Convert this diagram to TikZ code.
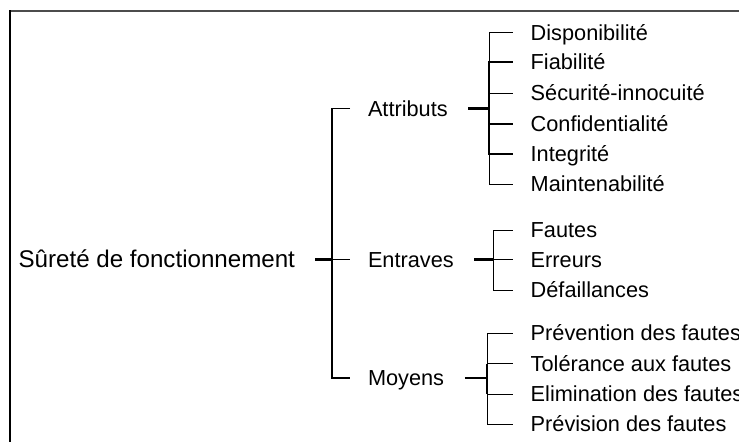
\documentclass[tikz,border=0pt]{standalone}
\usepackage{fontspec}
\setmainfont{Liberation Sans}

\begin{document}
\begin{tikzpicture}[x=0.75pt,y=-0.75pt,line width=1pt,
    main node/.style={inner sep=0pt,outer xsep=15pt,text height=12.7pt,text depth=0pt,font=\fontsize{18.1}{21}\selectfont},
    sub node/.style={inner sep=0pt,outer xsep=13.5pt,text height=11.4pt,text depth=0pt,font=\fontsize{16.3}{19}\selectfont},
    stub/.style={line width=1.6pt}]
            \clip (0,0) rectangle (739,442);
            % frame
            \draw[black!70,line width=1.5pt] (10,11) -- (739,11);
            \draw[line width=1.5pt] (10,10.25) -- (10,442);

            \node[main node] (1) [anchor=east] at (315,259.5) {Sûreté de fonctionnement};

            \node[sub node] (2) [anchor=west] at (350,108.5) {Attributs};
            \node[sub node] (3) [anchor=west] at (350,259.5) {Entraves};
            \node[sub node] (4) [anchor=west] at (350,378) {Moyens};

            \node[sub node] (5) [anchor=west] at (512.7,32.7) {Disponibilité};
            \node[sub node] (6) [anchor=west] at (512.7,62) {Fiabilité};
            \node[sub node] (7) [anchor=west] at (512.7,93.3) {Sécurité-innocuité};
            \node[sub node] (8) [anchor=west] at (512.7,124) {Confidentialité};
            \node[sub node] (9) [anchor=west] at (512.7,154.3) {Integrité};
            \node[sub node] (10) [anchor=west] at (512.7,184.3) {Maintenabilité};

            \node[sub node] (11) [anchor=west] at (512.7,230.3) {Fautes};
            \node[sub node] (12) [anchor=west] at (512.7,259.5) {Erreurs};
            \node[sub node] (13) [anchor=west] at (512.7,290.3) {Défaillances};

            \node[sub node] (14) [anchor=west] at (512.7,333.3) {Prévention des fautes};
            \node[sub node] (15) [anchor=west] at (512.7,363.7) {Tolérance aux fautes};
            \node[sub node] (16) [anchor=west] at (512.7,394.3) {Elimination des fautes};
            \node[sub node] (17) [anchor=west] at (512.7,424.3) {Prévision des fautes};

            % bracket points
            \coordinate (m) at (332,259.5);
            \coordinate (a) at (489.3,108.5);
            \coordinate (e) at (493.3,259.5);
            \coordinate (c) at (487.3,378);

            \draw (2.west) -| (m) |- (4.west);
            \draw (m) -- (3.west);
            \draw[stub] (1.east) -- (m);

            \draw[stub,shorten <=2pt] (2.east) -- (a);
            \draw (5.west) -| (a) |- (10.west);
            \draw[stub] (6.west) -| (a) |- (9.west);
            \draw (7.west) -- (7.west -| a);
            \draw (8.west) -- (8.west -| a);

            \draw[stub,shorten <=2pt] (3.east) -- (e);
            \draw (11.west) -| (e) |- (13.west);
            \draw (e) -- (12.west);

            \draw[stub,shorten <=2pt] (4.east) -- (c);
            \draw (14.west) -| (c) |- (17.west);
            \draw[stub] (15.west -| c) -- (16.west -| c);
            \draw (15.west) -- (15.west -| c);
            \draw (16.west) -- (16.west -| c);
        \end{tikzpicture}
\end{document}
